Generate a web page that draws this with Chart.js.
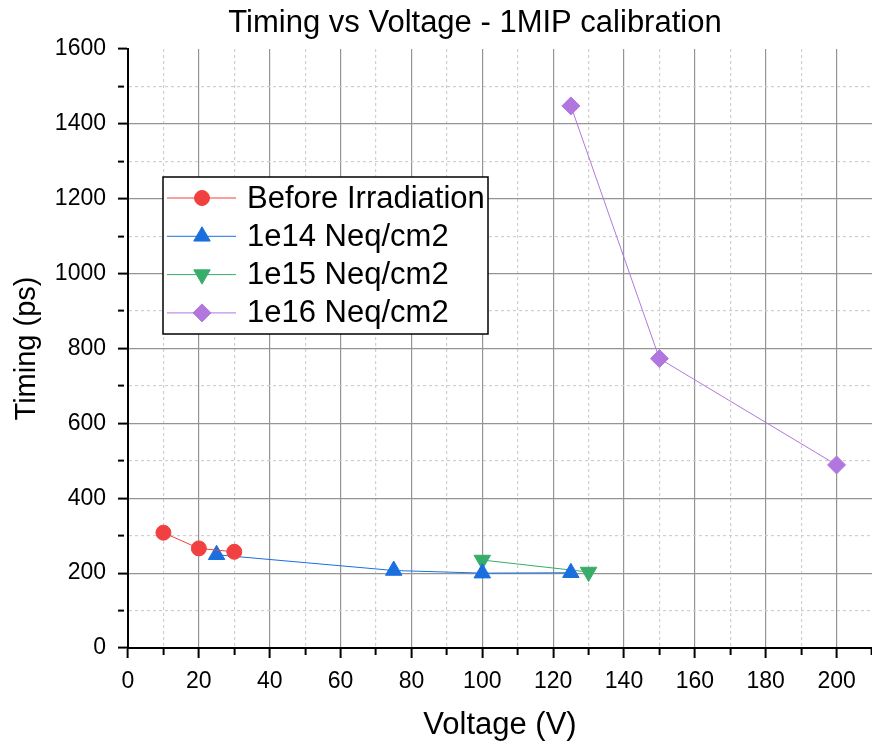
<!DOCTYPE html>
<html>
<head>
<meta charset="utf-8">
<title>Timing vs Voltage</title>
<script src="https://cdn.jsdelivr.net/npm/chart.js@4/dist/chart.umd.min.js"></script>
<style>
  body { margin: 0; background: #fff; }
  canvas { display: block; }
</style>
</head>
<body>
<canvas id="chart" width="872" height="743"></canvas>
<script>
// series
const seriesNames = ["Before Irradiation", "1e14 Neq/cm2", "1e15 Neq/cm2", "1e16 Neq/cm2"];
const voltBefore = [10, 20, 30];
const timeBefore = [308, 266, 257];
const volt1e14 = [25, 75, 100, 125];
const time1e14 = [249, 207, 200, 201];
const volt1e15 = [100, 130];
const time1e15 = [235, 203];
const volt1e16 = [125, 150, 200];
const time1e16 = [1448, 773, 489];

const xTicksMajor = 20;   // labelled every 20 V, minor every 10
const yTicksMajor = 200;  // labelled every 200 ps, minor every 100

const colors = ["#F14040", "#1A6FDF", "#37AD6B", "#B177DE"];
const FONT = "'Liberation Sans', Arial, sans-serif";

Chart.defaults.font.family = FONT;
Chart.defaults.color = "#000";

const pts = (xs, ys) => xs.map((x, i) => ({ x: x, y: ys[i] }));

const makeSet = (i, xs, ys, style, radius, rotation) => ({
  label: seriesNames[i],
  data: pts(xs, ys),
  borderColor: colors[i],
  backgroundColor: colors[i],
  pointBackgroundColor: colors[i],
  pointBorderColor: colors[i],
  pointBorderWidth: 1,
  borderWidth: 1,
  pointStyle: style,
  pointRadius: radius,
  pointRotation: rotation || 0,
  tension: 0,
});

// title (off-centre like the original) and the legend box inside the plot
const decorations = {
  id: "decorations",
  afterDraw(chart) {
    const ctx = chart.ctx;
    ctx.save();
    ctx.fillStyle = "#000";
    ctx.font = "31px " + FONT;
    ctx.textAlign = "center";
    ctx.textBaseline = "middle";
    ctx.fillText("Timing vs Voltage - 1MIP calibration", 475, 23);

    ctx.fillStyle = "#fff";
    ctx.fillRect(163, 177, 325, 157);
    ctx.strokeStyle = "#000";
    ctx.lineWidth = 1.5;
    ctx.strokeRect(163, 177, 325, 157);
    chart.data.datasets.forEach((ds, i) => {
      const y = 198 + i * 38.3;
      ctx.strokeStyle = ds.borderColor;
      ctx.lineWidth = 1;
      ctx.beginPath();
      ctx.moveTo(167, y);
      ctx.lineTo(236, y);
      ctx.stroke();
      ctx.fillStyle = ds.pointBackgroundColor;
      Chart.helpers.drawPoint(ctx, {
        pointStyle: ds.pointStyle,
        rotation: ds.pointRotation,
        radius: ds.pointRadius,
        borderWidth: 1,
      }, 202, y);
      ctx.fillStyle = "#000";
      ctx.font = "31px " + FONT;
      ctx.textBaseline = "middle";
      ctx.textAlign = "left";
      ctx.fillText(ds.label, 247, y + 1);
    });
    ctx.restore();
  }
};

const gridColor = (major, top) => (c) => {
  if (!c.tick) return "#999";
  if (c.tick.value === top) return "rgba(0,0,0,0)";
  return c.tick.value % major === 0 ? "#949494" : "#cfcfcf";
};
const gridDash = (major) => (c) => (c.tick && c.tick.value % major !== 0 ? [3, 3] : []);
const tickDash = (major) => (c) => (c.tick && c.tick.value % major !== 0 ? [6, 100] : []);

new Chart(document.getElementById("chart"), {
  type: "line",
  data: {
    datasets: [
      makeSet(0, voltBefore, timeBefore, "circle", 7.5),
      makeSet(1, volt1e14, time1e14, "triangle", 9.5),
      makeSet(2, volt1e15, time1e15, "triangle", 9.5, 180),
      makeSet(3, volt1e16, time1e16, "rectRot", 9),
    ],
  },
  options: {
    responsive: false,
    animation: false,
    layout: { autoPadding: false, padding: { top: 49, left: 0, right: 0, bottom: 0 } },
    plugins: {
      legend: { display: false },
      tooltip: { enabled: false },
      title: { display: false },
    },
    scales: {
      x: {
        type: "linear",
        min: 0,
        max: 210,
        afterFit: (s) => { s.height = 95; s.paddingRight = 0; s.paddingLeft = 0; },
        ticks: {
          stepSize: 10,
          autoSkip: false,
          maxRotation: 0,
          padding: 10,
          font: { size: 23 },
          callback: (v) => (v % xTicksMajor === 0 ? v : ""),
        },
        grid: {
          color: gridColor(xTicksMajor, 210),
          lineWidth: 1.2,
          tickLength: 10,
          tickWidth: 2,
          tickColor: "#000",
          tickBorderDash: tickDash(xTicksMajor),
        },
        border: { color: "#000", width: 2, dash: gridDash(xTicksMajor) },
        title: {
          display: true,
          text: "Voltage (V)",
          font: { size: 31, lineHeight: 1.1 },
          padding: { top: 0, bottom: 0 },
        },
      },
      y: {
        min: 0,
        max: 1600,
        afterFit: (s) => { s.width = 128; s.paddingTop = 0; s.paddingBottom = 0; },
        ticks: {
          stepSize: 100,
          autoSkip: false,
          padding: 12,
          font: { size: 23 },
          callback: (v) => (v % yTicksMajor === 0 ? v : ""),
        },
        grid: {
          color: gridColor(yTicksMajor, 1600),
          lineWidth: 1.2,
          tickLength: 10,
          tickWidth: 2,
          tickColor: "#000",
          tickBorderDash: tickDash(yTicksMajor),
        },
        border: { color: "#000", width: 2, dash: gridDash(yTicksMajor) },
        title: {
          display: true,
          text: "Timing (ps)",
          font: { size: 29, lineHeight: 1.1 },
          padding: { top: 11, bottom: 0 },
        },
      },
    },
  },
  plugins: [decorations],
});
</script>
</body>
</html>
